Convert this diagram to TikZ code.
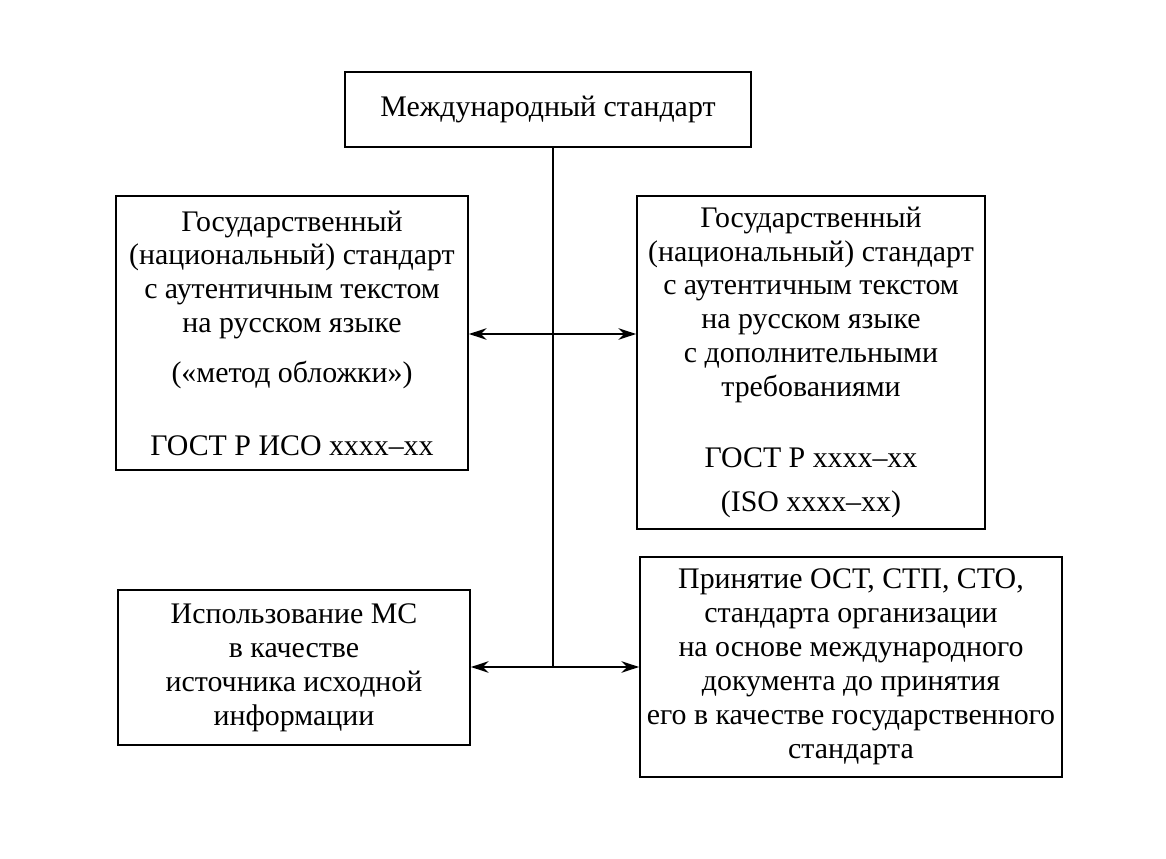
\documentclass[tikz,border=0pt]{standalone}
\usepackage{fontspec}
\setmainfont{Liberation Serif}
\usetikzlibrary{arrows.meta}

\begin{document}
\begin{tikzpicture}
	 [every node/.style={draw,line width=1pt,align=center,font=\fontsize{17}{19.3}\selectfont,inner sep=2pt},
	  arr/.style={-{Stealth[length=10pt,width=6.5pt]},line width=1pt}]
	\useasboundingbox (0,0) rectangle (23.32,-17.18);

	\node[minimum width=8.12cm,minimum height=1.5cm] (ms) at (10.96,-2.19) {Международный стандарт};

	\node[minimum width=7.04cm,minimum height=5.48cm] (gost1) at (5.84,-6.66)
	  {Государственный\\(национальный) стандарт\\с аутентичным текстом\\на русском языке\\[9pt]
	   («метод обложки»)\\[22pt]ГОСТ Р ИСО xxxx–xx};

	\node[minimum width=6.96cm,minimum height=6.66cm] (gost2) at (16.22,-7.25)
	  {Государственный\\(национальный) стандарт\\с аутентичным текстом\\на русском языке\\с дополнительными\\требованиями\\[21pt]
	   ГОСТ Р xxxx–xx\\[6pt](ISO xxxx–xx)};

	\node[minimum width=7.04cm,minimum height=3.1cm] (ms2) at (5.88,-13.35)
	  {Использование МС\\в качестве\\источника исходной\\информации};

	\node[minimum width=8.44cm,minimum height=4.4cm] (ost) at (17.02,-13.34)
	  {Принятие ОСТ, СТП, СТО,\\стандарта организации\\на основе международного\\документа до принятия\\его в качестве государственного\\стандарта};

	\coordinate (j1) at (11.06,-6.68);
	\coordinate (j2) at (11.06,-13.34);

	\draw[line width=1pt] (ms.south -| j2) -- (j2);

	\foreach \from/\to in {j1/gost1.east,j1/gost2.west,j2/ms2.east,j2/ost.west}
    \draw[arr] (\from) -- (\to |- \from);

\end{tikzpicture}
\end{document}
